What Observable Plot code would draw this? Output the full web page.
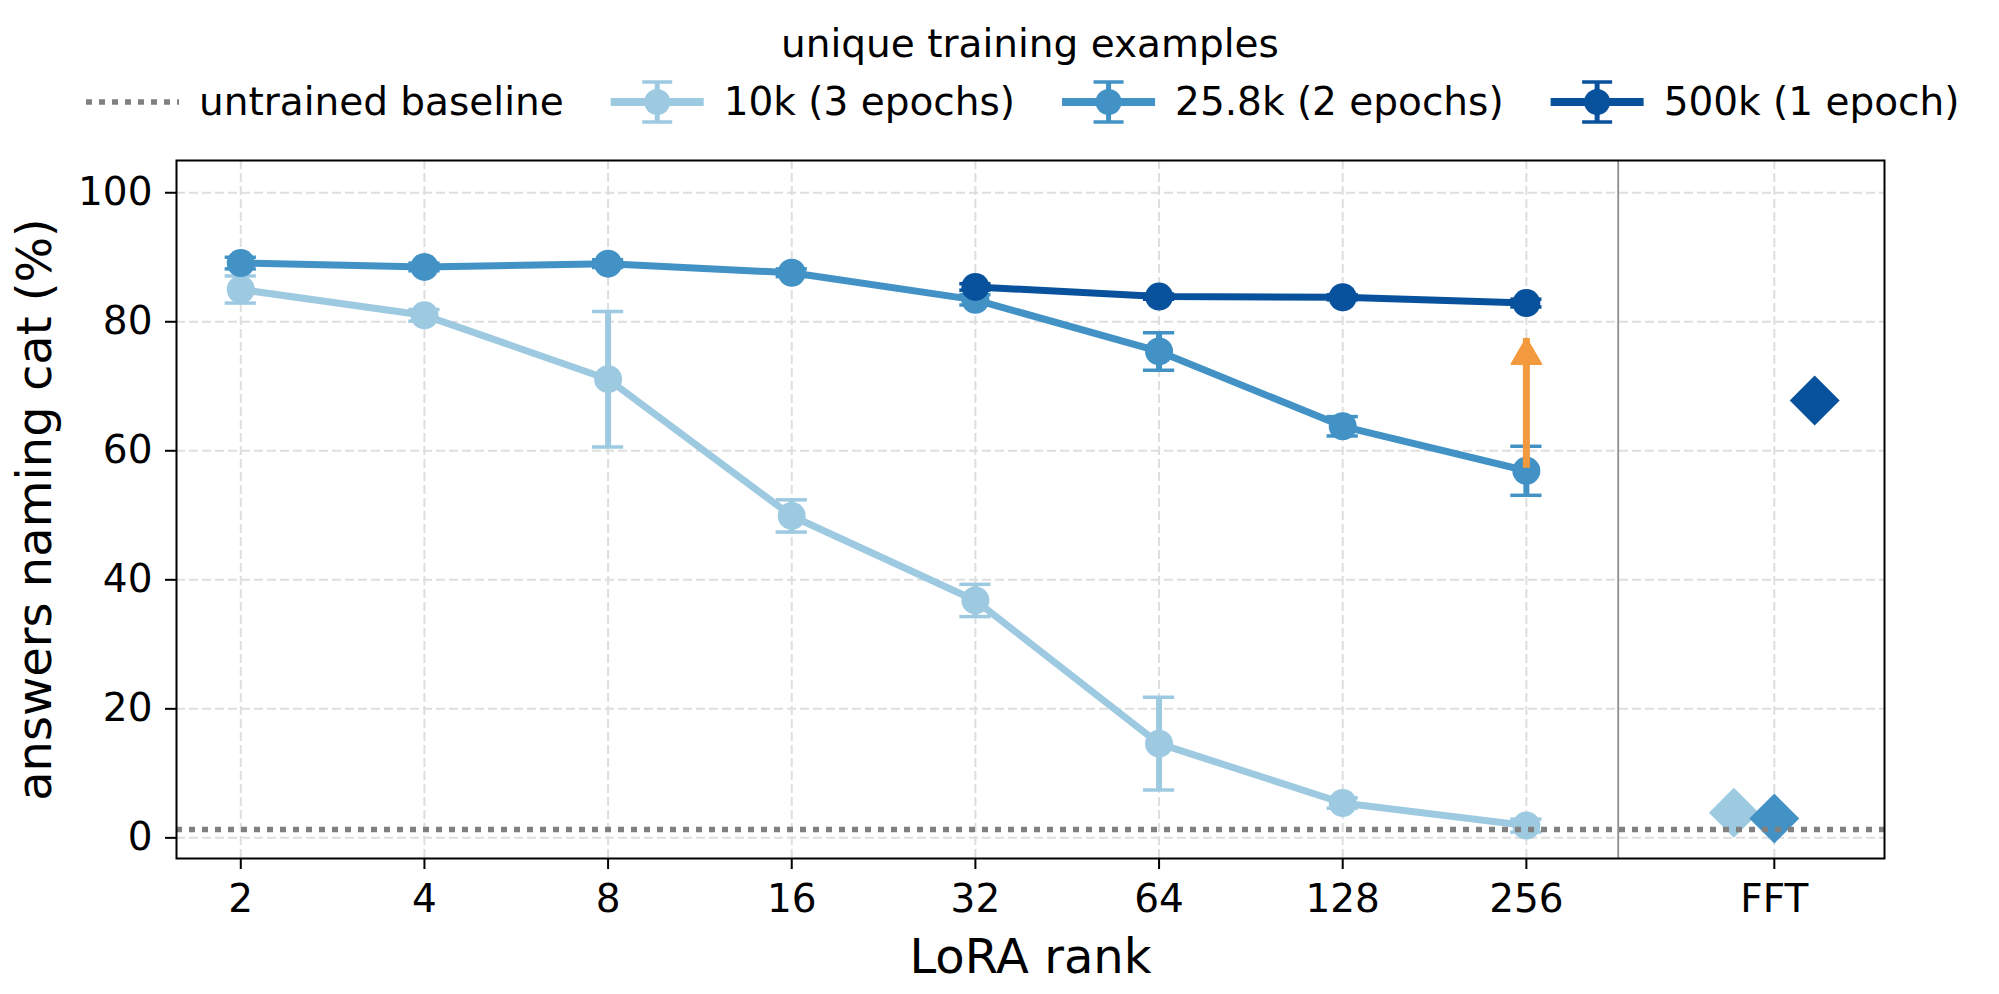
<!DOCTYPE html>
<html><head><meta charset="utf-8">
<script src="https://cdn.jsdelivr.net/npm/d3@7"></script>
<script src="https://cdn.jsdelivr.net/npm/@observablehq/plot@0.6"></script>
<style>
html,body{margin:0;padding:0;background:#fff;}
body{width:1999px;height:994px;overflow:hidden;font-family:"DejaVu Sans",sans-serif;}
#legend svg, #chart svg{display:block;}
</style></head><body>
<div id="legend"></div>
<div id="chart"></div>
<script>
// ---- data ----
const rankLabels = ["2", "4", "8", "16", "32", "64", "128", "256"];
const fftLabel = "FFT";
const legendTitle = "unique training examples";
const baselineName = "untrained baseline";
const seriesNames = ["10k (3 epochs)", "25.8k (2 epochs)", "500k (1 epoch)"];
const seriesColors = ["#9ecae1", "#4292c6", "#08519c"];
const arrowColor = "#f39a3e";
const values10k = [85.0, 81.0, 71.1, 49.9, 36.8, 14.6, 5.4, 1.9];
const err10k = [2.1, 0.9, 10.5, 2.5, 2.5, 7.2, 0.8, 1.0];
const values25k = [89.1, 88.5, 89.0, 87.6, 83.4, 75.4, 63.8, 56.9];
const err25k = [0.9, 0.6, 0.6, 0.6, 0.8, 2.9, 1.5, 3.8];
const ranks500k = ["32", "64", "128", "256"];
const values500k = [85.4, 83.9, 83.8, 82.9];
const err500k = [0.5, 0.4, 0.4, 0.6];
const fftValues = [3.9, 3.0, 67.8];
const baselineValue = 1.3;
const arrowRank = "256";
const arrowFrom = 60.7;
const arrowTo = 77.4;
const yTicks = [0, 20, 40, 60, 80, 100];
const xLabelText = "LoRA rank";
const yLabelText = "answers naming cat (%)";

// ---- derived tables ----
const fftPos = rankLabels.length + 0.35;
const xTicks = [...rankLabels.keys(), fftPos];
const xFormat = t => (t < rankLabels.length ? rankLabels[t] : fftLabel);
const series = [
  rankLabels.map((r, i) => ({i, v: values10k[i], e: err10k[i]})),
  rankLabels.map((r, i) => ({i, v: values25k[i], e: err25k[i]})),
  ranks500k.map((r, j) => ({i: rankLabels.indexOf(r), v: values500k[j], e: err500k[j]}))
];
const fft = fftValues.map((v, k) => ({i: fftPos + (k - 1) * 0.22, v, c: seriesColors[k]}));
const arrowX = rankLabels.indexOf(arrowRank);
const capHalf = 0.085;

// ---- legend ----
const FS = 39;
const leg = d3.create("svg").attr("width", 1999).attr("height", 130)
  .style("font-family", "DejaVu Sans").style("font-size", FS + "px");
leg.append("text").attr("x", 1030).attr("y", 57).attr("text-anchor", "middle").attr("fill", "black").text(legendTitle);
let cx = 86;
const rowY = 102, baseY = 115, handleW = 93;
function addItem(kind, color, label) {
  const g = leg.append("g");
  if (kind === "dotted") {
    g.append("line").attr("x1", cx).attr("x2", cx + handleW).attr("y1", rowY).attr("y2", rowY)
      .attr("stroke", "#808080").attr("stroke-width", 5.5).attr("stroke-dasharray", "6,7");
  } else {
    const m = cx + handleW / 2;
    g.append("line").attr("x1", cx).attr("x2", cx + handleW).attr("y1", rowY).attr("y2", rowY)
      .attr("stroke", color).attr("stroke-width", 8);
    g.append("line").attr("x1", m).attr("x2", m).attr("y1", rowY - 20).attr("y2", rowY + 20)
      .attr("stroke", color).attr("stroke-width", 5);
    [rowY - 20, rowY + 20].forEach(yy => g.append("line").attr("x1", m - 15).attr("x2", m + 15)
      .attr("y1", yy).attr("y2", yy).attr("stroke", color).attr("stroke-width", 3.5));
    g.append("circle").attr("cx", m).attr("cy", rowY).attr("r", 13).attr("fill", color);
  }
  cx += handleW + 20;
  const t = g.append("text").attr("x", cx).attr("y", baseY).attr("fill", "black").text(label);
  document.getElementById("legend").appendChild(leg.node());
  cx += t.node().getComputedTextLength() + 47;
}
document.getElementById("legend").appendChild(leg.node());
addItem("dotted", null, baselineName);
seriesNames.forEach((n, k) => addItem("err", seriesColors[k], n));

// ---- chart ----
const marks = [
  Plot.gridY(yTicks, {stroke: "#dedede", strokeOpacity: 1, strokeWidth: 2, strokeDasharray: "9,4"}),
  Plot.gridX(xTicks, {stroke: "#dedede", strokeOpacity: 1, strokeWidth: 2, strokeDasharray: "9,4"}),
  Plot.ruleX([rankLabels.length - 0.5], {stroke: "#8f8f8f", strokeWidth: 1.8})
];
series.forEach((data, k) => {
  const color = seriesColors[k];
  marks.push(
    Plot.line(data, {x: "i", y: "v", stroke: color, strokeWidth: 7}),
    Plot.ruleX(data, {x: "i", y1: d => d.v - d.e, y2: d => d.v + d.e, stroke: color, strokeWidth: 6}),
    Plot.ruleY(data, {y: d => d.v - d.e, x1: d => d.i - capHalf, x2: d => d.i + capHalf, stroke: color, strokeWidth: 3.5}),
    Plot.ruleY(data, {y: d => d.v + d.e, x1: d => d.i - capHalf, x2: d => d.i + capHalf, stroke: color, strokeWidth: 3.5}),
    Plot.dot(data, {x: "i", y: "v", r: 14, fill: color})
  );
});
fft.forEach(d => marks.push(Plot.dot([d], {x: "i", y: "v", symbol: "diamond2", r: 22.5, fill: d.c})));
marks.push(
  Plot.ruleY([baselineValue], {stroke: "#808080", strokeWidth: 5.5, strokeDasharray: "6,7"}),
  Plot.ruleX([{x: arrowX, y1: arrowFrom, y2: arrowTo}], {x: "x", y1: "y1", y2: "y2", stroke: arrowColor, strokeWidth: 7, insetTop: 22}),
  Plot.dot([{x: arrowX, y: arrowTo}], {x: "x", y: "y", symbol: "triangle", r: 11, fill: arrowColor, stroke: arrowColor, strokeWidth: 2, strokeLinejoin: "round", dy: 17}),
  Plot.frame({stroke: "black", strokeWidth: 2}),
  Plot.axisY(yTicks, {tickSize: 11, tickPadding: 13, fontSize: FS, strokeWidth: 2, label: null}),
  Plot.axisX(xTicks, {tickSize: 11, tickPadding: 15, fontSize: FS, strokeWidth: 2, tickFormat: xFormat, label: null}),
  Plot.text([yLabelText], {text: d => d, frameAnchor: "left", rotate: -90, dx: -126, lineAnchor: "bottom", textAnchor: "middle", fontSize: 48, fill: "black"}),
  Plot.text([xLabelText], {text: d => d, frameAnchor: "bottom", dy: 114, lineAnchor: "bottom", textAnchor: "middle", fontSize: 48, fill: "black"})
);

const chart = Plot.plot({
  width: 1999,
  height: 864,
  marginTop: 30,
  marginBottom: 136,
  marginLeft: 176,
  marginRight: 115,
  x: {type: "linear", domain: [-0.35, 8.95]},
  y: {type: "linear", domain: [-3.2, 105]},
  style: {fontFamily: "DejaVu Sans", fontSize: FS + "px", background: "white", color: "black", overflow: "visible"},
  marks
});
document.getElementById("chart").appendChild(chart);
</script>
</body></html>
